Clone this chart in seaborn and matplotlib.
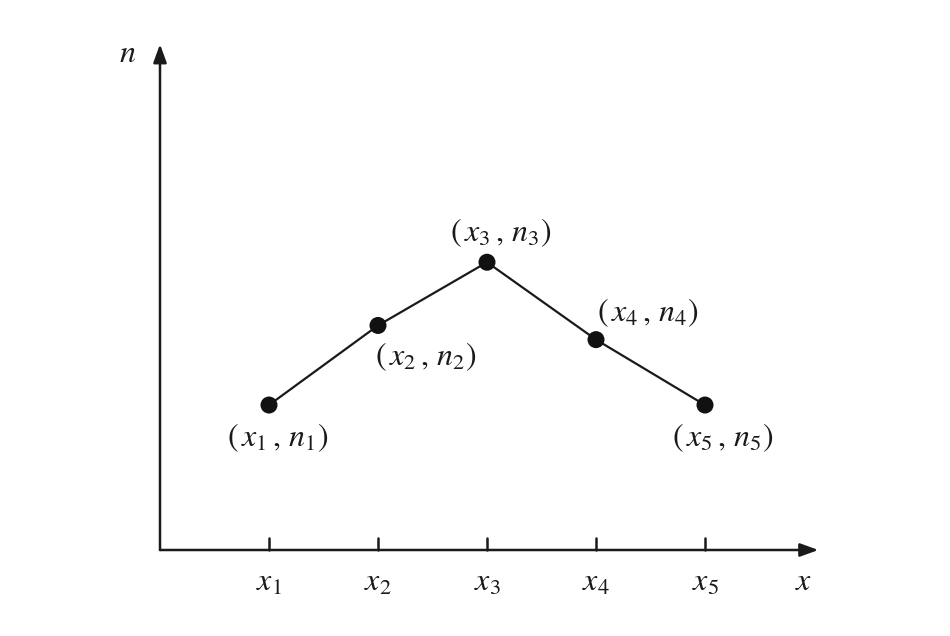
import matplotlib
matplotlib.use("Agg")
import matplotlib.pyplot as plt
import seaborn as sns
import pandas as pd

# data: positions along x and the n values
x_vals = [1, 2, 3, 4, 5]
n_vals = [1.33, 2.06, 2.64, 1.93, 1.33]
point_labels = [r"$(\,x_1\,,\,n_1)$", r"$(\,x_2\,,\,n_2)$", r"$(\,x_3\,,\,n_3)$",
                r"$(\,x_4\,,\,n_4)$", r"$(\,x_5\,,\,n_5)$"]
tick_labels = [r"$x_1$", r"$x_2$", r"$x_3$", r"$x_4$", r"$x_5$"]
# label offsets (dx, dy) in data units relative to each point
label_offsets = [(0.08, -0.30), (0.44, -0.29), (0.13, 0.27), (0.47, 0.25), (0.16, -0.30)]

df = pd.DataFrame({"x": x_vals, "n": n_vals})

sns.set_style("white")
plt.rcParams["mathtext.fontset"] = "stix"
plt.rcParams["font.family"] = ["STIXGeneral", "DejaVu Serif"]

fig = plt.figure(figsize=(9.5, 6.36), dpi=100)
ax = fig.add_axes([0, 0, 1, 1])
unit = 109.0
ax.set_xlim(-160 / unit, (950 - 160) / unit)
ax.set_ylim(-86 / unit, (636 - 86) / unit)
ax.axis("off")

# axes with arrow heads
arrow = dict(arrowstyle="-|>,head_length=1.1,head_width=0.4", color="#1a1a1a",
             lw=1.8, shrinkA=0, shrinkB=0)
ax.annotate("", xy=(6.04, 0), xytext=(0, 0), arrowprops=arrow)
ax.annotate("", xy=(0, 4.64), xytext=(0, 0), arrowprops=arrow)

# tick marks and tick labels
for xv, lab in zip(x_vals, tick_labels):
    ax.plot([xv, xv], [0, 0.11], color="#1a1a1a", lw=1.8)
    ax.text(xv, -0.30, lab, ha="center", va="center", fontsize=23, color="#1a1a1a")

ax.text(5.9, -0.30, r"$x$", ha="center", va="center", fontsize=23, color="#1a1a1a")
ax.text(-0.3, 4.55, r"$n$", ha="center", va="center", fontsize=23, color="#1a1a1a")

sns.lineplot(data=df, x="x", y="n", ax=ax, color="#1a1a1a", lw=1.6, legend=False)
sns.scatterplot(data=df, x="x", y="n", ax=ax, color="#111111", s=150,
                edgecolor="none", zorder=3, legend=False)

for xv, nv, lab, (dx, dy) in zip(x_vals, n_vals, point_labels, label_offsets):
    ax.text(xv + dx, nv + dy, lab, ha="center", va="center", fontsize=23, color="#1a1a1a")

fig.savefig("out.png", dpi=100)
